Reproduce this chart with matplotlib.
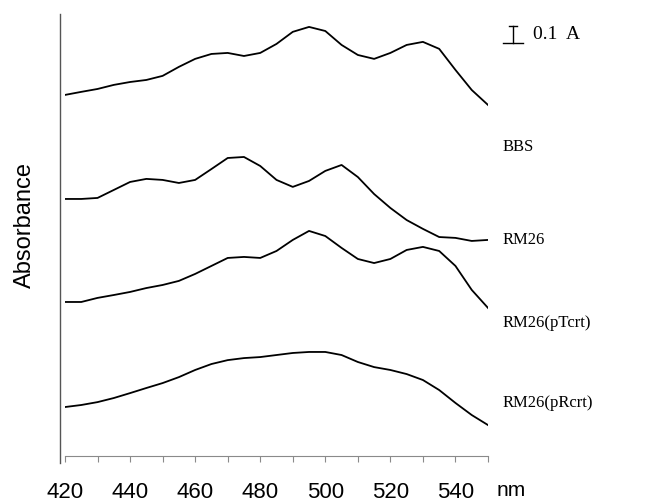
import numpy as np
import matplotlib

matplotlib.use('Agg')
from matplotlib import pyplot as plt
from matplotlib.lines import Line2D

# wavelength grid (nm)
wavelength = [420, 425, 430, 435, 440, 445, 450, 455, 460, 465, 470, 475, 480,
              485, 490, 495, 500, 505, 510, 515, 520, 525, 530, 535, 540, 545, 550]

# absorbance relative to the value at 420 nm
bbs = [0.000, 0.018, 0.035, 0.059, 0.076, 0.088, 0.112, 0.165, 0.212, 0.241, 0.247,
       0.229, 0.247, 0.300, 0.371, 0.400, 0.376, 0.294, 0.235, 0.212, 0.247, 0.294,
       0.312, 0.271, 0.147, 0.029, -0.059]
rm26 = [0.000, 0.000, 0.006, 0.053, 0.100, 0.118, 0.112, 0.094, 0.112, 0.176, 0.241,
        0.247, 0.194, 0.112, 0.071, 0.106, 0.165, 0.200, 0.129, 0.029, -0.053, -0.124,
        -0.176, -0.224, -0.229, -0.247, -0.241]
rm26_ptcrt = [0.000, 0.000, 0.024, 0.041, 0.059, 0.082, 0.100, 0.124, 0.165, 0.212,
              0.259, 0.265, 0.259, 0.300, 0.365, 0.418, 0.388, 0.318, 0.253, 0.229,
              0.253, 0.306, 0.324, 0.300, 0.212, 0.071, -0.035]
rm26_prcrt = [0.000, 0.012, 0.029, 0.053, 0.082, 0.112, 0.141, 0.176, 0.218, 0.253,
              0.276, 0.288, 0.294, 0.306, 0.318, 0.324, 0.324, 0.306, 0.265, 0.235,
              0.218, 0.194, 0.159, 0.100, 0.024, -0.047, -0.106]

spectra = [bbs, rm26, rm26_ptcrt, rm26_prcrt]
names = ['BBS', 'RM26', 'RM26(pTcrt)', 'RM26(pRcrt)']
offsets = [2.124, 1.512, 0.906, 0.288]       # vertical stacking (A)
label_y = [1.82, 1.27, 0.78, 0.31]            # where the names sit (A)

major_ticks = [420, 440, 460, 480, 500, 520, 540]
minor_ticks = [430, 450, 470, 490, 510, 530, 550]
scale_bar = 0.1

W, H = 649, 503
fig = plt.figure(figsize=(W / 100, H / 100), dpi=100)
ax = fig.add_axes([65 / W, 47 / H, 423 / W, 442 / H])

for s, off in zip(spectra, offsets):
    ax.plot(wavelength, np.array(s) + off, color='black', lw=1.3,
            solid_joinstyle='round')

ax.set_xlim(420, 550)
ax.set_ylim(0, 2.6)

for side in ['top', 'right', 'left']:
    ax.spines[side].set_visible(False)
ax.spines['bottom'].set_color('#8a8a8a')
ax.spines['bottom'].set_linewidth(0.8)
ax.set_yticks([])
ax.set_xticks(major_ticks)
ax.set_xticks(minor_ticks, minor=True)
ax.tick_params(axis='x', which='both', direction='out', length=4.5, width=0.8,
               color='#8a8a8a')
ax.tick_params(axis='x', which='major', pad=14, labelsize=16)
ax.set_xticklabels([str(t) for t in major_ticks], family='Liberation Sans')

# left vertical axis line, drawn on its own slightly apart from the x axis
fig.add_artist(Line2D([60 / W, 60 / W], [1 - 14 / H, 1 - 463 / H],
                      color='#555555', lw=1.0))

ax.text(557, -0.2, 'nm', fontsize=15, family='Liberation Sans',
        ha='center', va='center', clip_on=False)
fig.text(25 / W, 1 - 225 / H, 'Absorbance', rotation=90, fontsize=17,
         family='Liberation Sans', ha='center', va='center')

for name, ly in zip(names, label_y):
    ax.text(554.5, ly, name, fontsize=12, family='Liberation Serif',
            ha='left', va='center', clip_on=False)

# 0.1 A scale bar
bx, by = 557.7, 2.478
ax.plot([bx, bx], [by - scale_bar / 2, by + scale_bar / 2], color='black', lw=1.0,
        clip_on=False)
ax.plot([bx - 1.2, bx + 1.2], [by + scale_bar / 2] * 2, color='black', lw=1.0,
        clip_on=False)
ax.plot([bx - 3.2, bx + 3.2], [by - scale_bar / 2] * 2, color='black', lw=1.0,
        clip_on=False)
ax.text(bx + 6, by, '0.1  A', fontsize=14, family='Liberation Serif',
        ha='left', va='center', clip_on=False)

fig.savefig('out.png', dpi=100)
